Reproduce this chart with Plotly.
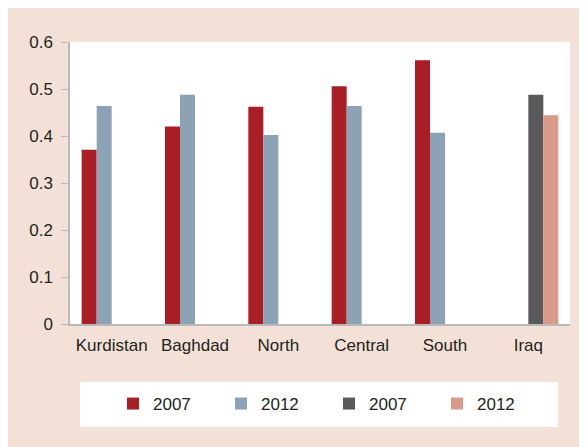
import plotly.graph_objects as go

categories = ["Kurdistan", "Baghdad", "North", "Central", "South", "Iraq"]
reg_2007 = [0.371, 0.420, 0.462, 0.506, 0.561, None]
reg_2012 = [0.464, 0.488, 0.402, 0.464, 0.407, None]
iraq_2007 = [None, None, None, None, None, 0.488]
iraq_2012 = [None, None, None, None, None, 0.444]
y_ticks = [0, 0.1, 0.2, 0.3, 0.4, 0.5, 0.6]
y_ticklabels = ["0", "0.1", "0.2", "0.3", "0.4", "0.5", "0.6"]

series = [
    ("2007", reg_2007, "#a81e24"),
    ("2012", reg_2012, "#8ba3b5"),
    ("2007", iraq_2007, "#58595b"),
    ("2012", iraq_2012, "#d99b88"),
]

FONT = "Liberation Sans Narrow, Arial Narrow, Liberation Sans, Arial, sans-serif"
TXT = "#231f20"
PINK = "#f3e1d8"

fig = go.Figure()
for name, vals, col in series:
    fig.add_trace(go.Bar(x=categories, y=vals, name=name, marker_color=col,
                         marker_line_width=0))

W, H = 587, 447
L, R, T, B = 62, 25, 34, 131
pw, ph = W - L - R, H - T - B

def px(x):
    return (x - L) / pw

def py(y):
    return (H - B - y) / ph

shapes = [
    dict(type="rect", xref="paper", yref="paper", x0=px(72), x1=px(550), y0=py(374), y1=py(419),
         fillcolor="white", line_width=0, layer="below"),
]

fig.update_layout(
    width=W, height=H,
    margin=dict(l=L, r=R, t=T, b=B, pad=0),
    paper_bgcolor=PINK, plot_bgcolor="white",
    barmode="group", bargap=0.28, bargroupgap=0,
    font=dict(family=FONT, size=17, color=TXT),
    shapes=shapes,
    legend=dict(orientation="h", x=0.518, xanchor="center", y=py(396), yanchor="middle",
                bgcolor="rgba(0,0,0,0)", font=dict(size=17, color=TXT),
                entrywidth=63, entrywidthmode="pixels", itemwidth=30,
                traceorder="normal"),
    showlegend=True,
)
fig.update_xaxes(showline=True, linecolor="#b9b9b9", linewidth=2, ticks="", showgrid=False,
                 tickfont=dict(size=17, color=TXT), ticklabelstandoff=5)
fig.update_yaxes(range=[0, 0.6], tickvals=y_ticks, ticktext=y_ticklabels,
                 showline=True, linecolor="#b9b9b9", linewidth=1.5, ticks="outside",
                 ticklen=7, tickcolor="#b9b9b9", tickwidth=1, showgrid=False, zeroline=False,
                 tickfont=dict(size=17, color=TXT), ticklabelstandoff=5)

fig.write_html("out.html")
